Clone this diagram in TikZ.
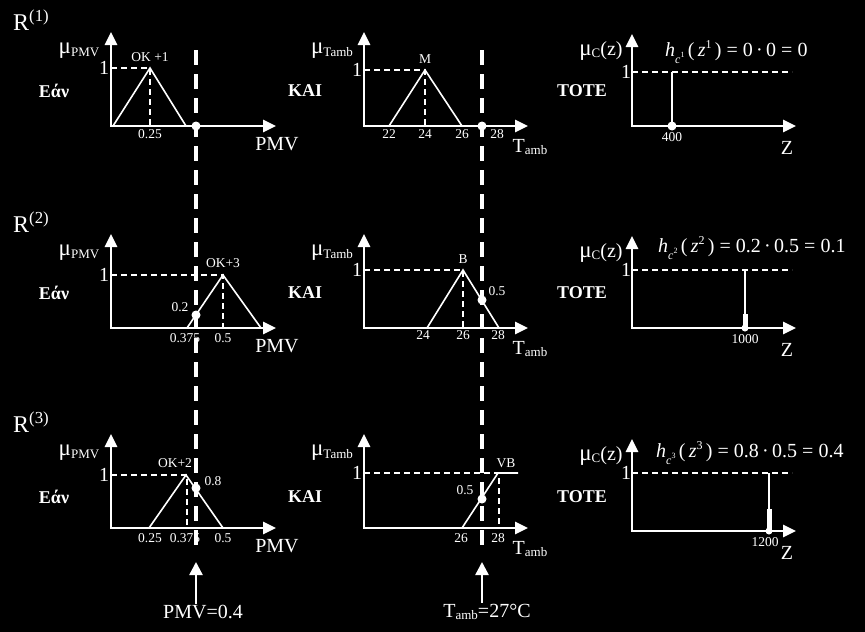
\documentclass[tikz,border=0pt]{standalone}
\usepackage{fontspec}
\setmainfont{Liberation Serif}
\usetikzlibrary{arrows.meta}

\newcommand{\lowtxt}[1]{\raisebox{-2.5pt}{\fontsize{13}{13}\selectfont #1}}
\newcommand{\bigmu}{{\fontsize{23}{23}\selectfont μ}}
\newcommand{\hterm}[2]{\textit{h}\raisebox{-7pt}{\fontsize{12}{12}\selectfont\textit{c}\raisebox{6pt}{\fontsize{8}{8}\selectfont #1}}\,(\,\textit{z}\raisebox{8pt}{\fontsize{12}{12}\selectfont #1}\,) = #2}

\begin{document}
\begin{tikzpicture}[x=1pt,y=-1pt,
  every node/.style={text=white,font=\fontsize{20}{20}\selectfont,inner sep=1pt},
  axes/.style={white,line width=2.6pt,{Triangle[length=13pt 0,width=12pt 0]}-{Triangle[length=13pt 0,width=12pt 0]}},
  mf/.style={white,line width=1.6pt},
  lvl/.style={white,line width=1.8pt,dash pattern=on 6pt off 4pt},
  cut/.style={white,line width=4pt,dash pattern=on 15pt off 9pt},
  inarrow/.style={white,line width=2.4pt,-{Triangle[length=13pt 0,width=13pt 0]}},
  tick/.style={font=\fontsize{13.5}{13.5}\selectfont},
  word/.style={font=\fontsize{18}{18}\selectfont\bfseries}]
\useasboundingbox (0,0) rectangle (865,632);
\fill[black] (0,0) rectangle (865,632);

% the three rules
\foreach \r/\o/\ro/\w in {1/126/126/91, 2/328/328/293, 3/528/531/497} {
  \node[font=\fontsize{24}{24}\selectfont,anchor=west] (rule\r) at (12,\o-106) {R\textsuperscript{(\r)}};
  \node[word] (if\r) at (54,\w) {Εάν};
  \node[word] (and\r) at (305,\w) {KAI};
  \node[word] (then\r) at (582,\w) {TOTE};
  \draw[axes] (111,\o-94) |- (276,\o);
  \draw[axes] (364,\o-94) |- (528,\o);
  \draw[axes] (632,\ro-92) |- (796,\ro);
  \node (mupmv\r) at (79,\o-75) {\bigmu\lowtxt{PMV}};
  \node (mutamb\r) at (332,\o-75) {\bigmu\lowtxt{Tamb}};
  \node (muc\r) at (601,\ro-75) {\bigmu\lowtxt{C}(z)};
  \node (pmvx\r) at (277,\o+18) {PMV};
  \node (tambx\r) at (530,\o+21) {T\lowtxt{amb}};
  \node (zx\r) at (787,\ro+22) {Z};
}

% R(1)
\node (one11) at (104,68) {1};
\draw[lvl] (111,68) -- (150,68) -- (150,126);
\draw[mf] (113,126) -- (150,68) -- (186,126);
\node[tick] (ok1) at (150,57) {OK +1};
\node[tick] (p11) at (150,134) {0.25};
\node (one12) at (357,70) {1};
\draw[lvl] (364,70) -- (425,70) -- (425,126);
\draw[mf] (389,126) -- (425,70) -- (462,126);
\node[tick] (tm) at (425,59) {M};
\node[tick] (t11) at (389,134) {22};
\node[tick] (t12) at (425,134) {24};
\node[tick] (t13) at (462,134) {26};
\node[tick] (t14) at (497,134) {28};
\node (one13) at (626,72) {1};
\draw[lvl] (632,72) -- (792,72);
\draw[mf] (672,72) -- (672,126);
\fill[white] (672,126) circle (4.5pt);
\node[tick] (z1) at (672,137) {400};
\node[anchor=west] (h1) at (664,52) {\hterm{1}{0\,·\,0 = 0}};

% R(2)
\node (one21) at (104,275) {1};
\draw[lvl] (111,275) -- (223,275) -- (223,328);
\draw[mf] (187,328) -- (223,275) -- (261,328);
\node[tick] (ok3) at (223,263) {OK+3};
\node[tick] (mu21) at (180,307) {0.2};
\node[tick] (p21) at (185,338) {0.375};
\node[tick] (p22) at (223,338) {0.5};
\node (one22) at (357,270) {1};
\draw[lvl] (364,270) -- (463,270) -- (463,328);
\draw[mf] (427,328) -- (463,270) -- (499,328);
\node[tick] (tb) at (463,259) {B};
\node[tick] (mu22) at (497,291) {0.5};
\node[tick] (t21) at (423,335) {24};
\node[tick] (t22) at (463,335) {26};
\node[tick] (t23) at (498,335) {28};
\node (one23) at (626,270) {1};
\draw[lvl] (632,270) -- (792,270);
\draw[mf] (745,270) -- (745,328);
\draw[white,line width=5pt] (745,314) -- (745,328);
\fill[white] (745,328) circle (3.5pt);
\node[tick] (z2) at (745,339) {1000};
\node[anchor=west] (h2) at (657,248) {\hterm{2}{0.2\,·\,0.5 = 0.1}};

% R(3)
\node (one31) at (104,475) {1};
\draw[lvl] (111,475) -- (187,475) -- (187,528);
\draw[mf] (149,528) -- (186,475) -- (223,528);
\node[tick] (ok2) at (175,463) {OK+2};
\node[tick] (mu31) at (213,481) {0.8};
\node[tick] (p31) at (150,538) {0.25};
\node[tick] (p32) at (185,538) {0.375};
\node[tick] (p33) at (223,538) {0.5};
\node (one32) at (357,473) {1};
\draw[lvl] (364,473) -- (499,473) -- (499,528);
\draw[mf] (462,528) -- (498,473) -- (518,473);
\node[tick] (tvb) at (506,463) {VB};
\node[tick] (mu32) at (465,490) {0.5};
\node[tick] (t31) at (461,538) {26};
\node[tick] (t32) at (498,538) {28};
\node (one33) at (626,473) {1};
\draw[lvl] (632,473) -- (792,473);
\draw[mf] (769,473) -- (769,531);
\draw[white,line width=5pt] (769,509) -- (769,531);
\fill[white] (769,531) circle (3.5pt);
\node[tick] (z3) at (765,542) {1200};
\node[anchor=west] (h3) at (655,453) {\hterm{3}{0.8\,·\,0.5 = 0.4}};

% crisp inputs
\draw[cut] (196,50) -- (196,550);
\draw[cut] (482,50) -- (482,550);
\foreach \x/\y in {196/126, 196/315, 196/488, 482/126, 482/300, 482/499}
  \fill[white] (\x,\y) circle (4.5pt);
\node (pmvin) at (203,612) {PMV=0.4};
\node (tambin) at (487,612) {T\lowtxt{amb}=27°C};
\coordinate (pmvtip) at (196,562);
\coordinate (tambtip) at (482,562);
\draw[inarrow] (pmvin.north -| pmvtip) -- (pmvtip);
\draw[inarrow] (tambin.north -| tambtip) -- (tambtip);
\end{tikzpicture}
\end{document}
